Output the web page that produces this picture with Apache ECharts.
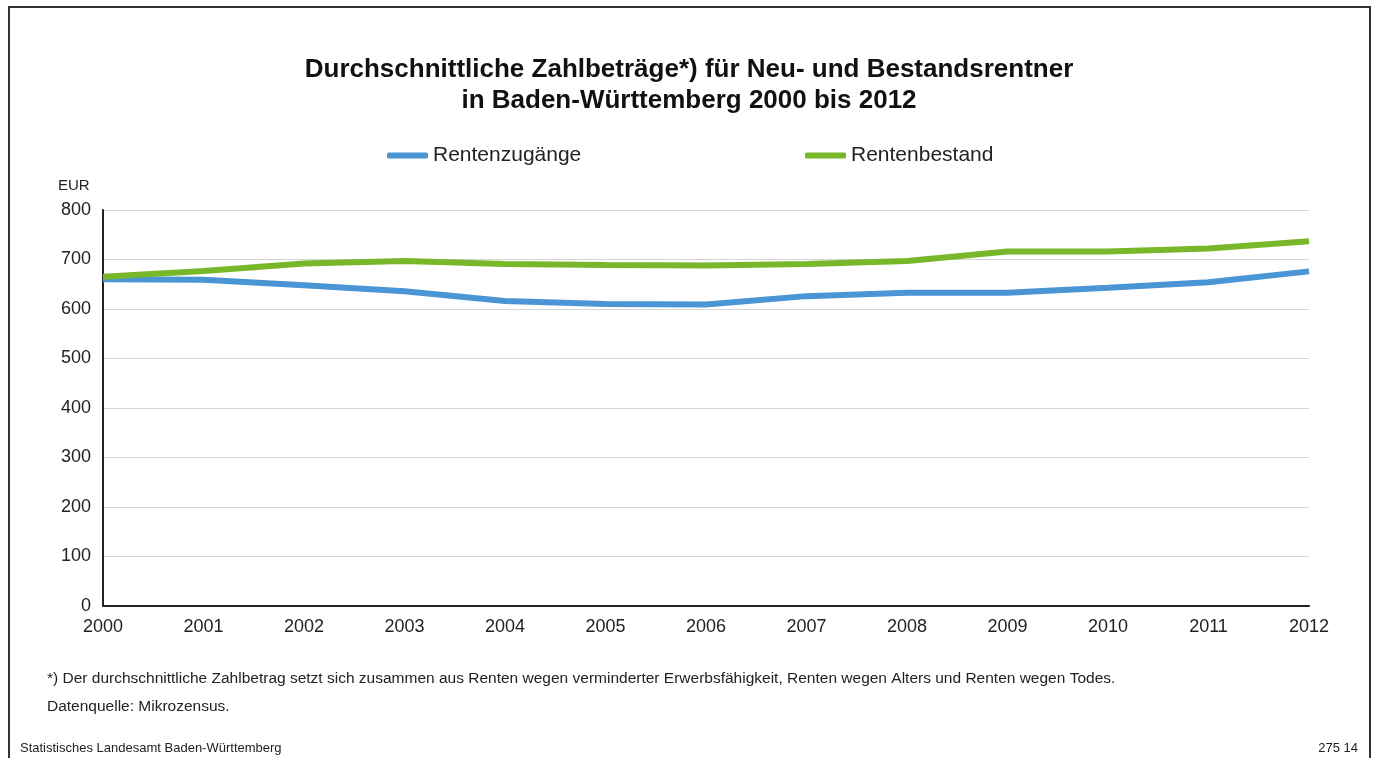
<!DOCTYPE html>
<html>
<head>
<meta charset="utf-8">
<script src="https://cdn.jsdelivr.net/npm/echarts@6/dist/echarts.min.js"></script>
<style>
  html, body { margin: 0; padding: 0; background: #fff; }
  #chart { width: 1376px; height: 758px; }
</style>
</head>
<body>
<div id="chart"></div>
<script>
// Jahre und Zahlbeträge in EUR
var years = ['2000', '2001', '2002', '2003', '2004', '2005', '2006', '2007', '2008', '2009', '2010', '2011', '2012'];
var rentenzugaenge = [660, 659, 648, 636, 616, 610, 609, 626, 633, 633, 643, 654, 676];
var rentenbestand = [665, 677, 692, 697, 691, 689, 688, 691, 697, 716, 716, 722, 737];
var seriesNames = ['Rentenzugänge', 'Rentenbestand'];
var seriesColors = ['#4a95d4', '#78b72a'];

var font = '"Liberation Sans", Arial, sans-serif';
var myChart = echarts.init(document.getElementById('chart'));

var option = {
  animation: false,
  textStyle: { fontFamily: font },
  title: {
    text: 'Durchschnittliche Zahlbeträge*) für Neu- und Bestandsrentner\nin Baden-Württemberg 2000 bis 2012',
    left: 684,
    textAlign: 'center',
    top: 49,
    textStyle: { fontSize: 26, fontWeight: 'bold', color: '#111', lineHeight: 31, fontFamily: font }
  },
  legend: [
    {
      data: [seriesNames[0]],
      left: 382, top: 140,
      icon: 'roundRect', itemWidth: 41, itemHeight: 6, itemGap: 8,
      textStyle: { fontSize: 21, color: '#222', fontFamily: font }
    },
    {
      data: [seriesNames[1]],
      left: 800, top: 140,
      icon: 'roundRect', itemWidth: 41, itemHeight: 6, itemGap: 8,
      textStyle: { fontSize: 21, color: '#222', fontFamily: font }
    }
  ],
  grid: { left: 103, right: 67, top: 210, bottom: 152, containLabel: false },
  xAxis: {
    type: 'category',
    data: years,
    boundaryGap: false,
    axisLine: { lineStyle: { color: '#222', width: 2 } },
    axisTick: { show: false },
    axisLabel: { fontSize: 18, color: '#222', margin: 12, fontFamily: font },
    splitLine: { show: false }
  },
  yAxis: {
    type: 'value',
    min: 0, max: 800, interval: 100,
    axisLine: { show: true, lineStyle: { color: '#222', width: 2 } },
    axisTick: { show: false },
    axisLabel: { fontSize: 18, color: '#222', margin: 12, fontFamily: font },
    splitLine: { lineStyle: { color: '#d4d4d4', width: 1 } }
  },
  series: [
    {
      name: seriesNames[0], type: 'line', data: rentenzugaenge,
      showSymbol: false, symbol: 'none',
      lineStyle: { width: 6, color: seriesColors[0] },
      itemStyle: { color: seriesColors[0] }
    },
    {
      name: seriesNames[1], type: 'line', data: rentenbestand,
      showSymbol: false, symbol: 'none',
      lineStyle: { width: 6, color: seriesColors[1] },
      itemStyle: { color: seriesColors[1] }
    }
  ],
  graphic: [
    // Rahmen
    {
      type: 'polyline',
      shape: { points: [[9, 758], [9, 7], [1370, 7], [1370, 758]] },
      style: { stroke: '#333', lineWidth: 2, fill: null }
    },
    { type: 'text', left: 58, top: 178, style: { text: 'EUR', fontSize: 15, fill: '#222', fontFamily: font } },
    {
      type: 'text', left: 47, top: 671,
      style: { text: '*) Der durchschnittliche Zahlbetrag setzt sich zusammen aus Renten wegen verminderter Erwerbsfähigkeit, Renten wegen Alters und Renten wegen Todes.', fontSize: 15.5, fill: '#222', fontFamily: font }
    },
    { type: 'text', left: 47, top: 699, style: { text: 'Datenquelle: Mikrozensus.', fontSize: 15.5, fill: '#222', fontFamily: font } },
    { type: 'text', left: 20, top: 742, style: { text: 'Statistisches Landesamt Baden-Württemberg', fontSize: 13, fill: '#222', fontFamily: font } },
    { type: 'text', right: 18, top: 742, style: { text: '275 14', fontSize: 13, fill: '#222', fontFamily: font } }
  ]
};
myChart.setOption(option);
</script>
</body>
</html>
